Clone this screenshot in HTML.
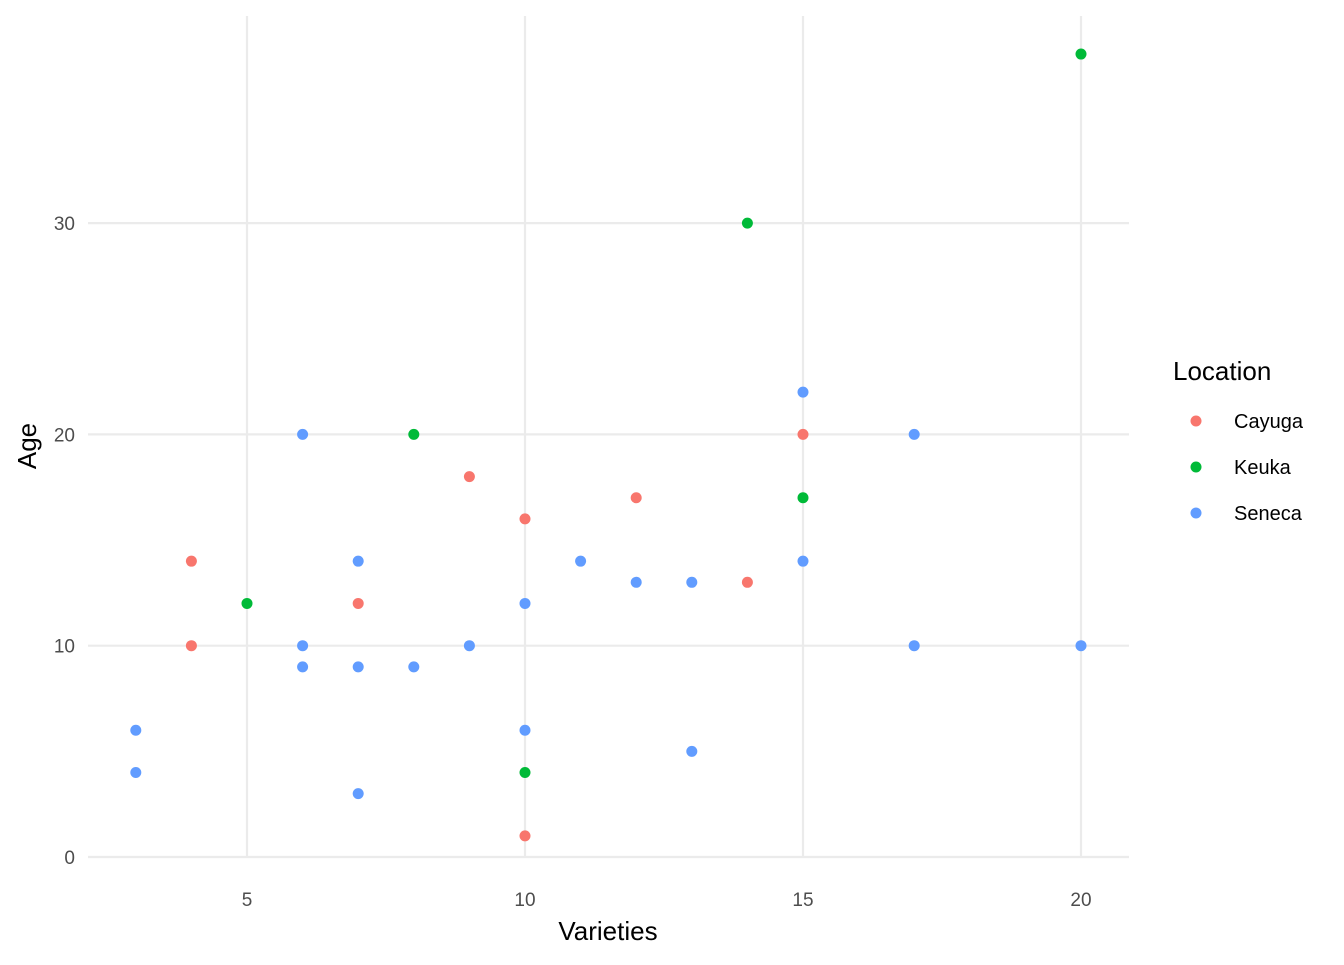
<!DOCTYPE html>
<html><head><meta charset="utf-8"><style>
body{margin:0;background:#fff;font-family:"Liberation Sans",Arial,sans-serif}
svg text{font-family:"Liberation Sans",Arial,sans-serif}
</style></head><body>
<svg id="chart" width="1344" height="960">
<g id="grid"></g>
<g id="axes"></g>
<g id="points"></g>
<text x="608" y="940" font-size="26" text-anchor="middle" fill="#000">Varieties</text>
<text transform="translate(36,446) rotate(-90)" font-size="26" text-anchor="middle" fill="#000">Age</text>
<g id="legend">
<text x="1173" y="380" font-size="26" fill="#000">Location</text>
</g>
</svg>
<script>
const xTicks=[5,10,15,20];
const yTicks=[0,10,20,30];
const groups=["Cayuga","Keuka","Seneca"];
const colors=["#F8766D","#00BA38","#619CFF"];
const cayugaX=[4,4,7,9,10,10,12,14,15];
const cayugaY=[14,10,12,18,16,1,17,13,20];
const keukaX=[5,8,10,14,15,20];
const keukaY=[12,20,4,30,17,38];
const senecaX=[3,3,6,6,6,7,7,7,8,9,10,10,11,12,13,13,15,15,17,17,20];
const senecaY=[6,4,20,10,9,14,9,3,9,10,12,6,14,13,13,5,22,14,20,10,10];

const NS="http://www.w3.org/2000/svg";
const X0=88,X1=1129,Y0=16,Y1=857;
const xs=v=>247+(v-5)*55.6;
const ys=v=>857-v*21.13;
function mk(tag,attrs,parent){const e=document.createElementNS(NS,tag);for(const k in attrs)e.setAttribute(k,attrs[k]);parent.appendChild(e);return e;}
const grid=document.getElementById('grid'),axes=document.getElementById('axes');
xTicks.forEach(t=>{
 const l=mk('line',{x1:xs(t),x2:xs(t),y1:Y0,y2:Y1,stroke:'#ebebeb','stroke-width':2.2},grid);
 
 
 const tx=mk('text',{x:xs(t),y:906,'font-size':19,'text-anchor':'middle',fill:'#4d4d4d'},axes);
 tx.textContent=t;
 
 
});
yTicks.forEach(t=>{
 const l=mk('line',{x1:X0,x2:X1,y1:ys(t),y2:ys(t),stroke:'#ebebeb','stroke-width':2.2},grid);
 
 
 const tx=mk('text',{x:75,y:ys(t)+7,'font-size':19,'text-anchor':'end',fill:'#4d4d4d'},axes);
 tx.textContent=t;
 
 
});
const pts=document.getElementById('points');
[[cayugaX,cayugaY],[keukaX,keukaY],[senecaX,senecaY]].forEach((d,g)=>{
 d[0].forEach((x,i)=>{
  const c=mk('circle',{cx:xs(x),cy:ys(d[1][i]),r:5.5,fill:colors[g]},pts);
  
  
 });
});
const lg=document.getElementById('legend');
groups.forEach((g,i)=>{
 const y=421+i*46;
 const c=mk('circle',{cx:1196,cy:y,r:5.5,fill:colors[i]},lg);
 
 
 const t=mk('text',{x:1234,y:y+7,'font-size':20,fill:'#000'},lg);
 t.textContent=g;
 
 
});
</script>
</body></html>
